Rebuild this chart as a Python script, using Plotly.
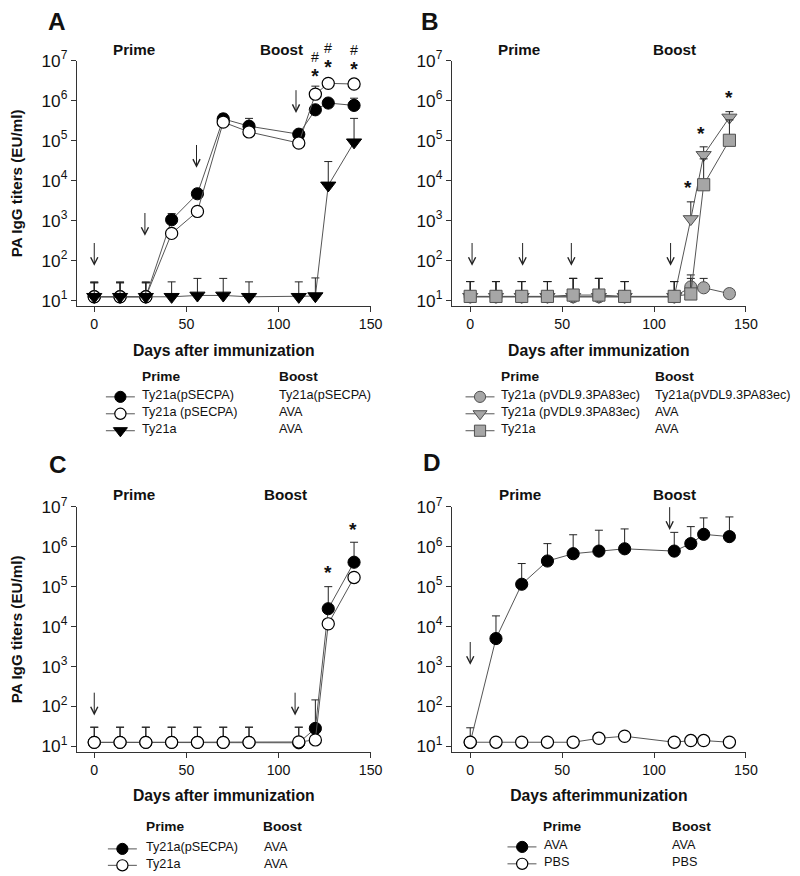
import plotly.graph_objects as go

# ---------------- data ----------------
days = [0, 14, 28, 42, 56, 70, 84, 111, 120, 127, 141]

x_ticks = [0, 50, 100, 150]
y_tickvals = [1e1, 1e2, 1e3, 1e4, 1e5, 1e6, 1e7]
y_ticktext = ["10<sup>1</sup>", "10<sup>2</sup>", "10<sup>3</sup>", "10<sup>4</sup>",
              "10<sup>5</sup>", "10<sup>6</sup>", "10<sup>7</sup>"]

# Panel A
a_sec_sec = [12.5, 12.5, 12.5, 1050, 4700, 3.5e5, 2.3e5, 1.45e5, 5.9e5, 8.7e5, 7.6e5]
a_sec_sec_top = [28, 28, 28, 1500, 5600, 4.6e5, 3.6e5, 1.75e5, 7e5, 1.05e6, 1.15e6]
a_sec_ava = [12.5, 12.5, 12.5, 480, 1700, 2.9e5, 1.65e5, 8.7e4, 1.45e6, 2.7e6, 2.6e6]
a_sec_ava_top = [28, 28, 28, 560, 2000, 3.4e5, 2.0e5, 1.0e5, 2.3e6, 3.1e6, 3.0e6]
a_ty_ava = [12.5, 12.5, 12.5, 12.5, 13.5, 13.5, 12.5, 12.5, 13, 7600, 9.1e4]
a_ty_ava_top = [29.5, 29.5, 29.5, 29.5, 36, 36, 29.5, 29.5, 37, 3.0e4, 3.6e5]
a_arrow_days = [0, 27.5, 55.5, 109.5]
a_sig_days = [120, 127, 141]          # "*" and "#" significance marks
a_prime_labels = ["Ty21a(pSECPA)", "Ty21a (pSECPA)", "Ty21a"]
a_boost_labels = ["Ty21a(pSECPA)", "AVA", "AVA"]

# Panel B
b_vdl_vdl = [12.5, 12.5, 12.5, 12.5, 12.5, 12.5, 12.5, 12.5, 22, 21, 15]
b_vdl_vdl_top = [30, 30, 30, 30, 36, 36, 30, 30, 44, 36, 17]
b_vdl_ava = [12.5, 12.5, 12.5, 12.5, 12.5, 12.5, 12.5, 12.5, 1100, 4.4e4, 3.8e5]
b_vdl_ava_top = [30, 30, 30, 30, 36, 36, 30, 30, 2950, 7.0e4, 5.3e5]
b_ty_ava = [12.8, 12.8, 12.8, 12.8, 13.8, 13.8, 12.8, 12.8, 14.7, 7900, 1.02e5]
b_ty_ava_top = [30, 30, 30, 30, 36, 36, 30, 30, 36, 3.5e4, 3.3e5]
b_arrow_days = [1, 28.5, 55, 109]
b_star_days = [118.5, 125.5, 141]
b_prime_labels = ["Ty21a (pVDL9.3PA83ec)", "Ty21a (pVDL9.3PA83ec)", "Ty21a"]
b_boost_labels = ["Ty21a(pVDL9.3PA83ec)", "AVA", "AVA"]

# Panel C
c_sec_ava = [12.5, 12.5, 12.5, 12.5, 12.5, 12.5, 12.5, 12.2, 28, 2.8e4, 4.1e5]
c_sec_ava_top = [30, 30, 30, 30, 30, 30, 30, 30, 145, 1.0e5, 1.3e6]
c_ty_ava = [12.5, 12.5, 12.5, 12.5, 12.5, 12.5, 12.5, 12.8, 14.4, 1.17e4, 1.7e5]
c_ty_ava_top = [30, 30, 30, 30, 30, 30, 30, 30, 17, 1.4e4, 2.0e5]
c_arrow_days = [0, 109]
c_star_days = [127, 140.5]
c_prime_labels = ["Ty21a(pSECPA)", "Ty21a"]
c_boost_labels = ["AVA", "AVA"]

# Panel D
d_ava_ava = [12.5, 5000, 1.15e5, 4.4e5, 6.7e5, 7.8e5, 8.9e5, 7.8e5, 1.2e6, 2.05e6, 1.8e6]
d_ava_ava_top = [29, 1.85e4, 3.8e5, 1.2e6, 2.0e6, 2.6e6, 2.8e6, 2.3e6, 3.2e6, 5.3e6, 5.6e6]
d_pbs_pbs = [12.6, 12.6, 12.6, 12.6, 12.6, 15.8, 17.8, 12.6, 13.9, 13.9, 12.6]
d_arrow_days = [0, 108.5]
d_prime_labels = ["AVA", "PBS"]
d_boost_labels = ["AVA", "PBS"]

# ---------------- geometry / styles ----------------
FONT = "Liberation Sans, Arial, sans-serif"
W, H = 800, 876
# the page is photographed slightly scaled/offset; work in target-picture pixels
S, OX, OY = 0.986, 8.0, 16.5

def fx(p):
    return (p - OX) / S

def fy(p):
    return (p - OY) / S

def fs(v):
    return v / S

LINE_C = "#555555"
AX_C = "#333333"
GRAY = "#a6a6a6"

def mk(symbol, size, color, lc, lw):
    return dict(symbol=symbol, size=fs(size), color=color, line=dict(color=lc, width=lw))

BLACK_CIRCLE = mk("circle", 12, "black", "black", 1)
OPEN_CIRCLE = mk("circle", 12, "white", "black", 1.2)
BLACK_TRI = mk("triangle-down", 13, "black", "black", 1)
GRAY_CIRCLE = mk("circle", 12, GRAY, "#505050", 1)
GRAY_TRI = mk("triangle-down", 13, GRAY, "#505050", 1)
GRAY_SQ = mk("square", 12, GRAY, "#505050", 1)

fig = go.Figure()

def add_series(xa, ya, vals, tops, marker, name):
    err = None
    if tops is not None:
        err = dict(type="data", symmetric=False,
                   array=[t - v for t, v in zip(tops, vals)],
                   arrayminus=[0] * len(vals),
                   color="#222222", thickness=1, width=4)
    fig.add_trace(go.Scatter(
        x=days, y=vals, xaxis=xa, yaxis=ya, mode="lines+markers", name=name,
        line=dict(color=LINE_C, width=1), marker=marker, error_y=err,
        showlegend=False, cliponaxis=False))

add_series("x", "y", a_sec_sec, a_sec_sec_top, BLACK_CIRCLE, "A prime Ty21a(pSECPA) boost Ty21a(pSECPA)")
add_series("x", "y", a_sec_ava, a_sec_ava_top, OPEN_CIRCLE, "A prime Ty21a(pSECPA) boost AVA")
add_series("x", "y", a_ty_ava, a_ty_ava_top, BLACK_TRI, "A prime Ty21a boost AVA")

add_series("x2", "y2", b_vdl_vdl, b_vdl_vdl_top, GRAY_CIRCLE, "B prime VDL boost VDL")
add_series("x2", "y2", b_vdl_ava, b_vdl_ava_top, GRAY_TRI, "B prime VDL boost AVA")
add_series("x2", "y2", b_ty_ava, b_ty_ava_top, GRAY_SQ, "B prime Ty21a boost AVA")

add_series("x3", "y3", c_sec_ava, c_sec_ava_top, BLACK_CIRCLE, "C prime Ty21a(pSECPA) boost AVA")
add_series("x3", "y3", c_ty_ava, c_ty_ava_top, OPEN_CIRCLE, "C prime Ty21a boost AVA")

add_series("x4", "y4", d_ava_ava, d_ava_ava_top, BLACK_CIRCLE, "D prime AVA boost AVA")
add_series("x4", "y4", d_pbs_pbs, None, OPEN_CIRCLE, "D prime PBS boost PBS")

# ---------------- axes ----------------
YR = [0.86, 7]
panels = {
    "": dict(xd=[77, 371], yd=[304, 57.3], xr=[-9.4, 150], title_y=True, xt="Days after immunization"),
    "2": dict(xd=[452.3, 746.7], yd=[304, 57.3], xr=[-10, 150], title_y=False, xt="Days after immunization"),
    "3": dict(xd=[77, 371], yd=[751.5, 505.5], xr=[-9.4, 150], title_y=True, xt="Days after immunization"),
    "4": dict(xd=[452.3, 746.7], yd=[751.5, 505.5], xr=[-10, 150], title_y=False, xt="Days afterimmunization"),
}

def data_to_px(k, day, logv):
    p = panels[k]
    x0, x1 = p["xd"]
    yb, yt = p["yd"]
    r0, r1 = p["xr"]
    px_ = x0 + (day - r0) / (r1 - r0) * (x1 - x0)
    py_ = yb - (logv - YR[0]) / (YR[1] - YR[0]) * (yb - yt)
    return px_, py_

axes_layout = {}
for k, p in panels.items():
    axes_layout["xaxis" + k] = dict(
        domain=[fx(p["xd"][0]) / W, fx(p["xd"][1]) / W], range=p["xr"],
        anchor="y" + k, showline=True, linecolor=AX_C, linewidth=1,
        ticks="outside", ticklen=fs(5), tickcolor=AX_C, tickwidth=1,
        tickvals=x_ticks, showgrid=False, zeroline=False,
        tickfont=dict(family=FONT, size=fs(14), color="#111111"),
        title=dict(text="<b>" + p["xt"] + "</b>", standoff=13,
                   font=dict(family=FONT, size=fs(15.5), color="#111111")))
    ya = dict(
        domain=[1 - fy(p["yd"][0]) / H, 1 - fy(p["yd"][1]) / H], type="log", range=YR,
        anchor="x" + k, showline=True, linecolor=AX_C, linewidth=1,
        ticks="outside", ticklen=fs(5), tickcolor=AX_C, tickwidth=1,
        tickvals=y_tickvals, ticktext=y_ticktext, showgrid=False, zeroline=False,
        tickfont=dict(family=FONT, size=fs(17), color="#111111"))
    if p["title_y"]:
        ya["title"] = dict(text="<b>PA IgG titers (EU/ml)</b>", standoff=18,
                           font=dict(family=FONT, size=fs(15), color="#111111"))
    axes_layout["yaxis" + k] = ya

# overlay axis whose units are target-picture pixels (labels, legends)
axes_layout["xaxis5"] = dict(domain=[0, 1], range=[OX, OX + W * S], visible=False,
                             anchor="y5", fixedrange=True)
axes_layout["yaxis5"] = dict(domain=[0, 1], range=[OY + H * S, OY], visible=False,
                             anchor="x5", fixedrange=True)

annotations = []
TXT_NUDGE = -1.5

def txt(x, y, text, size, bold=False, xanchor="center", nudge=TXT_NUDGE):
    annotations.append(dict(
        x=x, y=y + nudge, xref="x5", yref="y5",
        text=("<b>%s</b>" % text) if bold else text,
        showarrow=False, xanchor=xanchor, yanchor="middle",
        font=dict(family=FONT, size=fs(size), color="#111111")))

# panel letters
for letter, (lx, ly) in {"A": (57.5, 19.5), "B": (430, 19.5), "C": (58, 464), "D": (432, 462)}.items():
    txt(lx, ly, letter, 24, bold=True)

# Prime / Boost headers inside panels
for (px_, py_, t) in [(134, 48, "Prime"), (282, 48, "Boost"), (520, 48, "Prime"), (675, 48, "Boost"),
                      (134, 495, "Prime"), (286, 495, "Boost"), (521, 495, "Prime"), (675, 495, "Boost")]:
    txt(px_, py_, t, 15, bold=True)

# arrows (immunization days)
def arrows(xref, yref, days_list, tips):
    for d, t in zip(days_list, tips):
        annotations.append(dict(
            x=d, y=t, xref=xref, yref=yref, text="", showarrow=True,
            ax=0, ay=-fs(24), arrowhead=5, arrowsize=1.4, arrowwidth=1, arrowcolor="#222222"))

arrows("x", "y", a_arrow_days, [1.87, 2.62, 4.32, 5.69])
arrows("x2", "y2", b_arrow_days, [1.87, 1.87, 1.87, 1.87])
arrows("x3", "y3", c_arrow_days, [1.77, 1.77])
arrows("x4", "y4", d_arrow_days, [3.04, 6.42])

# significance marks (placed from data coordinates of each panel)
def mark(k, day, logv, text, size, bold):
    px_, py_ = data_to_px(k, day, logv)
    txt(px_, py_, text, size, bold=bold)

# panel A: "#" stacked over "*" in one two-line label
HASH_STAR = ('<span style="font-size:%.1fpx">#</span><br>'
             '<b><span style="font-size:%.1fpx">*</span></b>') % (fs(14), fs(19))
for d, lv in zip(a_sig_days, [6.82, 7.05, 7.0]):
    px_, py_ = data_to_px("", d, lv)
    txt(px_, py_, HASH_STAR, 16, nudge=0)

for d, ls in zip(b_star_days, [3.80, 5.13, 6.04]):
    mark("2", d, ls, "*", 19, True)
for d, ls in zip(c_star_days, [5.32, 6.40]):
    mark("3", d, ls, "*", 19, True)

# custom legends (Prime / Boost two-column tables)
def legend_block(hdr_y, prime_x, boost_x, rows_y, line_x, mark_x, text_x, boostt_x,
                 markers, prime_labels, boost_labels):
    txt(prime_x - 2, hdr_y, "Prime", 13.5, bold=True, xanchor="left")
    txt(boost_x - 2, hdr_y, "Boost", 13.5, bold=True, xanchor="left")
    for ry, mkr, pl, bl in zip(rows_y, markers, prime_labels, boost_labels):
        fig.add_trace(go.Scatter(x=list(line_x), y=[ry, ry], xaxis="x5", yaxis="y5", mode="lines",
                                 line=dict(color=LINE_C, width=1), showlegend=False, hoverinfo="skip"))
        m = dict(mkr)
        m["size"] = mkr["size"] - 1
        fig.add_trace(go.Scatter(x=[mark_x], y=[ry], xaxis="x5", yaxis="y5", mode="markers",
                                 marker=m, showlegend=False, hoverinfo="skip", name=pl))
        txt(text_x - 2, ry, pl, 12.5, xanchor="left")
        txt(boostt_x - 2, ry, bl, 12.5, xanchor="left")

legend_block(376, 142.3, 279, [395, 412, 429], (106, 135), 120.5, 142.3, 279,
             [BLACK_CIRCLE, OPEN_CIRCLE, BLACK_TRI], a_prime_labels, a_boost_labels)
legend_block(376, 501.7, 655.7, [395, 412, 429], (466, 495), 480.5, 501.7, 655.7,
             [GRAY_CIRCLE, GRAY_TRI, GRAY_SQ], b_prime_labels, b_boost_labels)
legend_block(828.5, 145.7, 263, [849, 865.5], (108, 137), 122.5, 145.7, 264,
             [BLACK_CIRCLE, OPEN_CIRCLE], c_prime_labels, c_boost_labels)
legend_block(828, 543.3, 672.7, [847, 864], (508, 537), 522.7, 544.3, 672.7,
             [BLACK_CIRCLE, OPEN_CIRCLE], d_prime_labels, d_boost_labels)

fig.update_layout(
    width=W, height=H, autosize=False,
    margin=dict(l=0, r=0, t=0, b=0, pad=0),
    paper_bgcolor="white", plot_bgcolor="rgba(0,0,0,0)",
    font=dict(family=FONT, color="#111111"),
    showlegend=False,
    annotations=annotations,
    **axes_layout)

fig.write_html("out.html")
